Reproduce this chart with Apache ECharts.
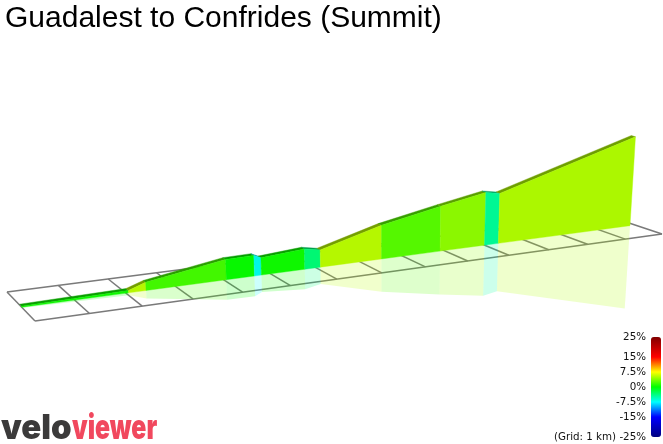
<!DOCTYPE html>
<html><head><meta charset="utf-8">
<style>html,body{margin:0;padding:0;background:#fff}#c{width:663px;height:444px}</style>
<script src="https://cdn.jsdelivr.net/npm/echarts@6/dist/echarts.min.js"></script></head>
<body><div id="c"></div>
<script>
const titleText = "Guadalest to Confrides (Summit)";
const kmStops = [0, 2.05, 2.4, 4.05, 4.65, 4.8, 5.75, 6.1, 7.5, 8.9, 10, 10.35, 13.86];
const elevations = [503, 508, 527, 567, 568, 557, 567, 557, 611, 647, 672, 663, 786];
const gradients = [0.4, 5.5, 2.0, 0.2, -7, 0.4, -3.5, 5.5, 2.6, 4.2, -4.5, 5.2];
const gridKm = [0,1,2,3,4,5,6,7,8,9,10,11,12,13,14];
const gridSides = [0, 1];
const legendTicks = [25, 15, 7.5, 0, -7.5, -15, -25];
const legendColors = ['#000080','#0000a0','#0000bf','#0000df','#0000ff','#0055ff','#00aaff','#00ffff','#00ffaa','#00ff55','#00ff00','#55ff00','#aaff00','#ffff00','#ffaa00','#ff5500','#ff0000','#df0000','#bf0000','#a00000','#800000'];

// camera
const Q = {nl:[35,321], nr:[662,234], fr:[605,215], fl:[7,292]};
const wallT = 0.46, roofT = 0.07, PX = 380, lean = 0.00025, bow = 0.0004;
const G0 = {left:20, top:20, width:560, height:270};

const H = (function(){
  const [x0,y0]=Q.nl,[x1,y1]=Q.nr,[x2,y2]=Q.fr,[x3,y3]=Q.fl;
  const dx1=x1-x2,dx2=x3-x2,sx=x0-x1+x2-x3,dy1=y1-y2,dy2=y3-y2,sy=y0-y1+y2-y3;
  const det=dx1*dy2-dx2*dy1;
  const g=(sx*dy2-dx2*sy)/det,h=(dx1*sy-sx*dy1)/det;
  return {a:x1-x0+g*x1,b:x3-x0+h*x3,c:x0,d:y1-y0+g*y1,e:y3-y0+h*y3,f:y0,g,h};
})();
function project(api, km, ele, t){
  const p = api.coord([km, ele]);
  const base = api.coord([0, 500]);
  const u = (p[0]-base[0])/G0.width, hgt = base[1]-p[1];
  const w = H.g*u+H.h*t+1;
  const x = (H.a*u+H.b*t+H.c)/w, y = (H.d*u+H.e*t+H.f)/w;
  const up = Math.abs(hgt), s = Math.sign(hgt);
  const f = 1/(1-lean*hgt);
  return [PX+(x-PX)*f, y - s*up/(1-bow*hgt)];
}
const segs = gradients.map((g,i)=>[kmStops[i],kmStops[i+1],elevations[i],elevations[i+1],g]);

function shade(color, k){
  const c = echarts.color.parse(color);
  return 'rgb('+Math.round(c[0]*k)+','+Math.round(c[1]*k)+','+Math.round(c[2]*k)+')';
}
function wall(params, api){
  const a=api.value(0),b=api.value(1),e0=api.value(2),e1=api.value(3);
  const pts=[project(api,a,500,wallT),project(api,b,500,wallT),project(api,b,e1,wallT),project(api,a,e0,wallT)];
  const c=shade(api.visual('color'),0.97);
  return {type:'polygon',shape:{points:pts},style:{fill:c,stroke:c,lineWidth:0.4}};
}
function roof(params, api){
  const a=api.value(0),b=api.value(1),e0=api.value(2),e1=api.value(3);
  const pts=[project(api,a,e0,wallT),project(api,b,e1,wallT),project(api,b,e1,wallT+roofT),project(api,a,e0,wallT+roofT)];
  const c=shade(api.visual('color'),0.62);
  return {type:'polygon',shape:{points:pts},style:{fill:c,stroke:c,lineWidth:0.4}};
}
function mirror(params, api){
  const a=api.value(0),b=api.value(1),e0=api.value(2),e1=api.value(3);
  const pts=[project(api,a,500,wallT),project(api,b,500,wallT),project(api,b,1000-e1,wallT),project(api,a,1000-e0,wallT)];
  return {type:'polygon',shape:{points:pts},style:{fill:api.visual('color'),opacity:0.2}};
}
const lineStyle={stroke:'#7a7a7a',lineWidth:1.5,fill:null};
function crossLine(params, api){
  const k=api.value(0),p=project(api,k,500,0),q=project(api,k,500,1);
  return {type:'line',shape:{x1:p[0],y1:p[1],x2:q[0],y2:q[1]},style:lineStyle};
}
function edgeLine(params, api){
  const t=api.value(0),p=project(api,gridKm[0],500,t),q=project(api,gridKm[gridKm.length-1],500,t);
  return {type:'line',shape:{x1:p[0],y1:p[1],x2:q[0],y2:q[1]},style:lineStyle};
}
const chart=echarts.init(document.getElementById('c'),null,{renderer:'canvas'});
const logoFont='Inter, "Open Sans", sans-serif';
chart.setOption({
  animation:false,
  backgroundColor:'#fff',
  title:{text:titleText,left:5,top:4,padding:0,textStyle:{fontFamily:'Liberation Sans',fontSize:30,fontWeight:'normal',color:'#000'}},
  grid:[
    {left:G0.left,top:G0.top,width:G0.width,height:G0.height,show:false},
    {left:651,top:337,width:10,height:100,show:false}
  ],
  xAxis:[
    {type:'value',gridIndex:0,min:0,max:14,show:false},
    {type:'value',gridIndex:1,min:0,max:1,show:false}
  ],
  yAxis:[
    {type:'value',gridIndex:0,min:500,max:1400,show:false},
    {type:'value',gridIndex:1,min:-25,max:25,position:'left',
     axisLine:{show:false},axisTick:{show:false},splitLine:{show:false},
     axisLabel:{customValues:legendTicks,margin:5,fontFamily:'DejaVu Sans',fontSize:10.3,color:'#111',
       formatter:v=>(v===-25?'(Grid: 1 km) ':'')+v+'%'}}
  ],
  visualMap:{type:'continuous',min:-25,max:25,dimension:4,seriesIndex:[2,3,4],calculable:false,
    left:651,top:337,itemWidth:10,itemHeight:100,padding:0,text:null,showLabel:false,
    inRange:{color:legendColors}},
  series:[
    {type:'custom',xAxisIndex:0,yAxisIndex:0,silent:true,clip:false,data:gridKm.map(k=>[k]),renderItem:crossLine,z:1},
    {type:'custom',xAxisIndex:0,yAxisIndex:0,silent:true,clip:false,data:gridSides.map(t=>[t]),renderItem:edgeLine,z:1},
    {type:'custom',xAxisIndex:0,yAxisIndex:0,silent:true,clip:false,data:segs,renderItem:mirror,z:2},
    {type:'custom',xAxisIndex:0,yAxisIndex:0,silent:true,clip:false,data:segs,renderItem:roof,z:3},
    {type:'custom',xAxisIndex:0,yAxisIndex:0,silent:true,clip:false,data:segs,renderItem:wall,z:4}
  ],
  graphic:[
    {type:'text',x:1,y:446,scaleX:0.97,style:{text:'velo',fontFamily:logoFont,fontSize:34,fontWeight:900,fill:'#3b3a3a',verticalAlign:'bottom'}},
    {type:'text',x:72,y:446,scaleX:0.73,style:{text:'viewer',fontFamily:logoFont,fontSize:34,fontWeight:900,fill:'#f1485e',verticalAlign:'bottom'}}
  ]
});
</script></body></html>
